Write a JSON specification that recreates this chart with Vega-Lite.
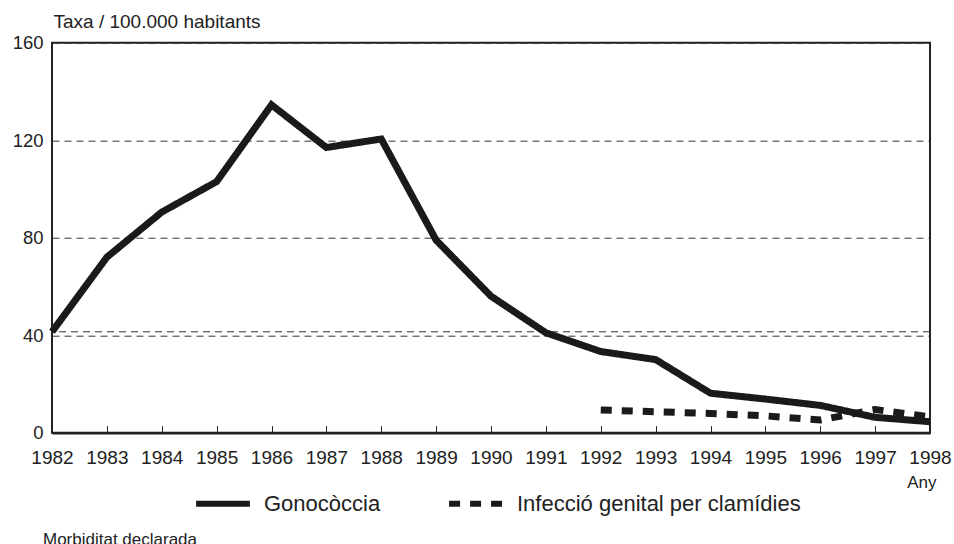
{
  "$schema": "https://vega.github.io/schema/vega-lite/v6.json",
  "width": 878,
  "height": 390,
  "autosize": "none",
  "padding": {"left": 52, "top": 42.7, "right": 24, "bottom": 111.3},
  "background": "white",
  "config": {
    "view": {"stroke": "#222", "strokeWidth": 2},
    "font": "Liberation Sans"
  },
  "title": {
    "text": "Morbiditat declarada",
    "orient": "bottom",
    "anchor": "start",
    "frame": "group",
    "fontSize": 17,
    "fontWeight": "normal",
    "color": "#222",
    "dx": -9,
    "offset": 16
  },
  "datasets": {
    "series": [
      {"year": 1982, "serie": "Gonocòccia", "taxa": 41.4},
      {"year": 1983, "serie": "Gonocòccia", "taxa": 72},
      {"year": 1984, "serie": "Gonocòccia", "taxa": 90.5},
      {"year": 1985, "serie": "Gonocòccia", "taxa": 103},
      {"year": 1986, "serie": "Gonocòccia", "taxa": 134.5},
      {"year": 1987, "serie": "Gonocòccia", "taxa": 117},
      {"year": 1988, "serie": "Gonocòccia", "taxa": 120.5},
      {"year": 1989, "serie": "Gonocòccia", "taxa": 79},
      {"year": 1990, "serie": "Gonocòccia", "taxa": 56},
      {"year": 1991, "serie": "Gonocòccia", "taxa": 41},
      {"year": 1992, "serie": "Gonocòccia", "taxa": 33.3},
      {"year": 1993, "serie": "Gonocòccia", "taxa": 30},
      {"year": 1994, "serie": "Gonocòccia", "taxa": 16.2},
      {"year": 1995, "serie": "Gonocòccia", "taxa": 13.8},
      {"year": 1996, "serie": "Gonocòccia", "taxa": 11.2},
      {"year": 1997, "serie": "Gonocòccia", "taxa": 6.3},
      {"year": 1998, "serie": "Gonocòccia", "taxa": 4.5},
      {"year": 1992, "serie": "Infecció genital per clamídies", "taxa": 9.3},
      {"year": 1993, "serie": "Infecció genital per clamídies", "taxa": 8.6},
      {"year": 1994, "serie": "Infecció genital per clamídies", "taxa": 7.9},
      {"year": 1995, "serie": "Infecció genital per clamídies", "taxa": 6.9},
      {"year": 1996, "serie": "Infecció genital per clamídies", "taxa": 5.2},
      {"year": 1997, "serie": "Infecció genital per clamídies", "taxa": 9.5},
      {"year": 1998, "serie": "Infecció genital per clamídies", "taxa": 6.5}
    ],
    "extra": [{"taxa": 41.4}]
  },
  "layer": [
    {
      "data": {"name": "extra"},
      "mark": {"type": "rule", "strokeDash": [7, 5], "color": "#333", "strokeWidth": 1},
      "encoding": {
        "y": {"field": "taxa", "type": "quantitative", "scale": {"domain": [0, 160]}}
      }
    },
    {
      "data": {"name": "series"},
      "mark": {"type": "line", "strokeWidth": 7, "strokeJoin": "miter", "strokeCap": "butt"},
      "encoding": {
        "x": {
          "field": "year",
          "type": "quantitative",
          "scale": {"domain": [1982, 1998], "nice": false, "zero": false},
          "axis": {
            "values": [1982, 1983, 1984, 1985, 1986, 1987, 1988, 1989, 1990, 1991, 1992, 1993, 1994, 1995, 1996, 1997, 1998],
            "format": "d",
            "labelFontSize": 19,
            "labelColor": "#222",
            "labelPadding": 23,
            "labelFlush": false,
            "tickSize": -7,
            "tickColor": "#222",
            "tickWidth": 1,
            "domainColor": "#222",
            "domainWidth": 2.5,
            "grid": false,
            "title": "Any",
            "titleFontSize": 17,
            "titleFontWeight": "normal",
            "titleColor": "#222",
            "titleAnchor": "end",
            "titleAlign": "right",
            "titleBaseline": "middle",
            "titleX": 884,
            "titleY": 50
          }
        },
        "y": {
          "field": "taxa",
          "type": "quantitative",
          "scale": {"domain": [0, 160], "nice": false},
          "axis": {
            "values": [0, 40, 80, 120, 160],
            "labelFontSize": 18.5,
            "labelColor": "#222",
            "labelPadding": 9,
            "ticks": false,
            "domain": false,
            "grid": true,
            "gridDash": [7, 5],
            "gridColor": "#333",
            "gridWidth": 1,
            "title": "Taxa / 100.000 habitants",
            "titleAngle": 0,
            "titleFontSize": 19,
            "titleFontWeight": "normal",
            "titleColor": "#222",
            "titleAlign": "left",
            "titleBaseline": "alphabetic",
            "titleX": 1,
            "titleY": -15.5
          }
        },
        "color": {
          "field": "serie",
          "type": "nominal",
          "scale": {"domain": ["Gonocòccia", "Infecció genital per clamídies"], "range": ["#1a1a1a", "#1a1a1a"]},
          "legend": {
            "title": null,
            "orient": "none",
            "legendX": 141,
            "legendY": 431,
            "direction": "horizontal",
            "symbolType": "stroke",
            "symbolSize": 2900,
            "symbolStrokeWidth": 6,
            "labelFontSize": 22,
            "labelColor": "#222",
            "labelOffset": 11,
            "columnPadding": 56,
            "labelLimit": 400
          }
        },
        "strokeDash": {
          "field": "serie",
          "type": "nominal",
          "scale": {"domain": ["Gonocòccia", "Infecció genital per clamídies"], "range": [[1, 0], [11, 10]]},
          "legend": {
            "title": null,
            "orient": "none",
            "legendX": 141,
            "legendY": 431,
            "direction": "horizontal",
            "symbolType": "stroke",
            "symbolSize": 2900,
            "symbolStrokeWidth": 6,
            "labelFontSize": 22,
            "labelColor": "#222",
            "labelOffset": 11,
            "columnPadding": 56,
            "labelLimit": 400
          }
        }
      }
    }
  ]
}
